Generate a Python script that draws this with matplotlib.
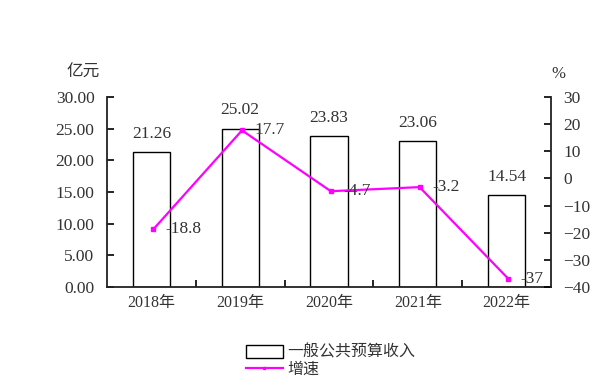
import matplotlib
matplotlib.use("Agg")
import matplotlib.pyplot as plt
import numpy as np
from matplotlib.patches import Patch
from matplotlib.lines import Line2D

years = ["2018年", "2019年", "2020年", "2021年", "2022年"]
revenue = [21.26, 25.02, 23.83, 23.06, 14.54]
growth = [-18.8, 17.7, -4.7, -3.2, -37]
growth_labels = ["-18.8", "17.7", "-4.7", "-3.2", "-37"]
left_ticks = [0, 5, 10, 15, 20, 25, 30]
right_ticks = [-40, -30, -20, -10, 0, 10, 20, 30]

fam = ["Liberation Serif", "Noto Sans CJK SC", "DejaVu Sans"]
plt.rcParams['font.family'] = fam
tc = "#333333"

fig = plt.figure(figsize=(5.96, 3.91), dpi=100)
ax = fig.add_axes([107/596, 1-287/391, (551-107)/596, (287-97)/391])
x = np.arange(len(years))
ax.bar(x, revenue, width=0.42, facecolor="white", edgecolor="black", linewidth=1.0, zorder=2)
ax.set_xlim(-0.5, len(years)-0.5)
ax.set_ylim(0, 30)
ax.set_yticks(left_ticks)
ax.set_yticklabels([f"{v:.2f}" for v in left_ticks], fontsize=12.5, color=tc)
ax.set_xticks(x)
ax.set_xticklabels(years, fontsize=11.5, color=tc)
ax.tick_params(axis='x', length=0, pad=6)
ax.set_xticks(x[:-1] + 0.5, minor=True)
ax.tick_params(axis='x', which='minor', direction='in', length=5, width=1.2)
ax.tick_params(axis='y', direction='in', length=5, width=1.2, pad=9)
ax.spines['top'].set_visible(False)
ax.spines['right'].set_visible(False)
for s in ['left', 'bottom']:
    ax.spines[s].set_linewidth(1.3)
    ax.spines[s].set_color("#222222")
for xi, v in zip(x, revenue):
    ax.text(xi, v + 1.6, f"{v:.2f}", ha='center', va='bottom', fontsize=12.5, color=tc)

ax2 = ax.twinx()
ax2.set_ylim(-40, 30)
ax2.set_yticks(right_ticks)
ax2.set_yticklabels([str(v).replace("-", "\u2212") for v in right_ticks], fontsize=12.5, color=tc)
ax2.tick_params(axis='y', direction='in', length=5, width=1.2, pad=9)
ax2.spines['top'].set_visible(False)
ax2.spines['left'].set_visible(False)
ax2.spines['bottom'].set_visible(False)
ax2.spines['right'].set_linewidth(1.3)
ax2.spines['right'].set_color("#222222")
ax2.plot(x + 0.02, growth, color="#FF00FF", linewidth=1.6, marker='s', markersize=3.5, zorder=3)
for xi, v, lab in zip(x, growth, growth_labels):
    ax2.text(xi + 0.16, v, lab, ha='left', va='center', fontsize=12.5, color=tc)

fig.text(83/596, 1-72/391, "亿元", ha='center', va='center', fontsize=12, color=tc, family=["Noto Sans CJK SC"])
fig.text(558/596, 1-74/391, "%", ha='center', va='center', fontsize=12, color=tc)

handles = [Patch(facecolor='white', edgecolor='black', linewidth=1.0),
           Line2D([0], [0], color="#FF00FF", linewidth=1.6, marker='s', markersize=2)]
fig.legend(handles, ["一般公共预算收入", "增速"], loc='upper left', bbox_to_anchor=(238/596, 1-336/391),
           frameon=False, handlelength=2.3, handleheight=0.8, labelspacing=0.0,
           handletextpad=0.3, borderpad=0, labelcolor=tc, prop={'family': ["Noto Sans CJK SC"], 'size': 11.5})

fig.savefig("out.png", dpi=100)
